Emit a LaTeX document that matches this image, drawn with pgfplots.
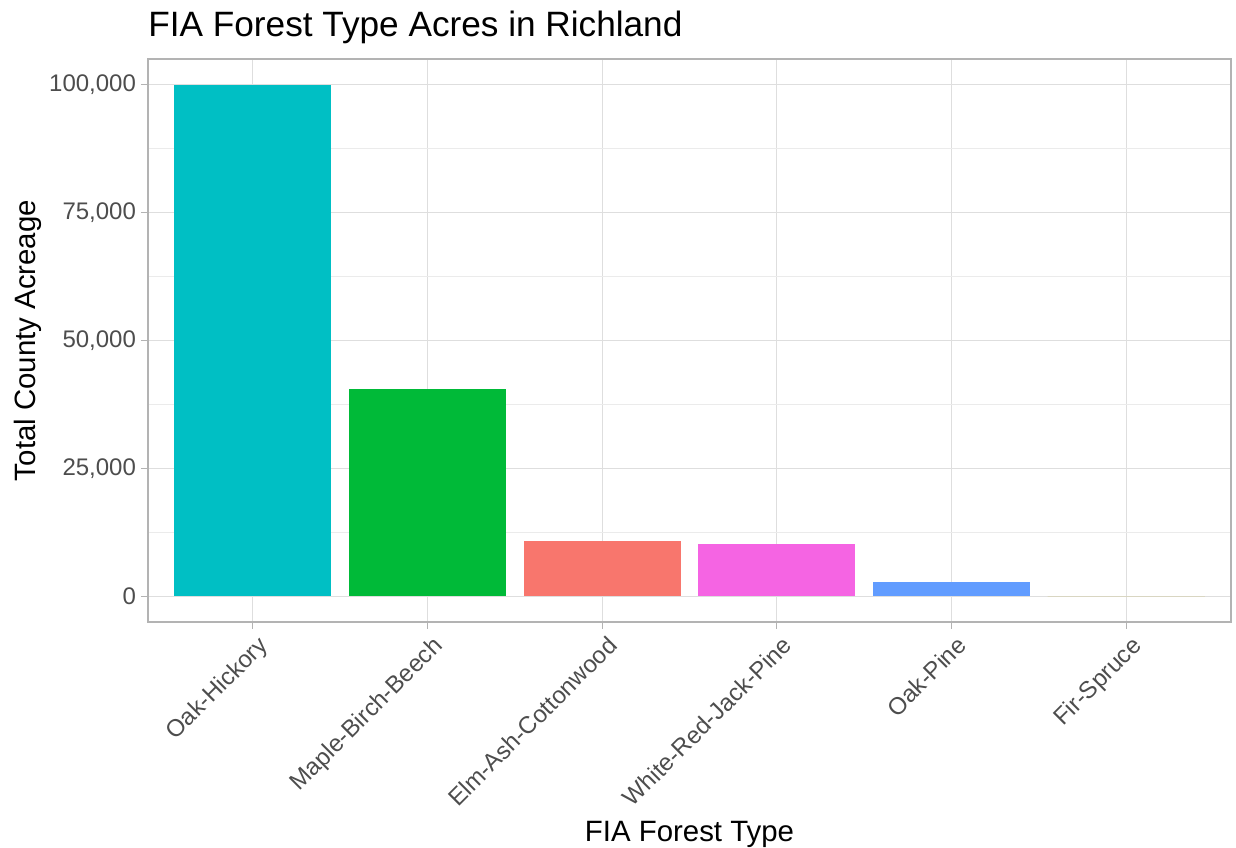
\documentclass[border=0pt]{standalone}
\usepackage{fontspec}
\setmainfont{Liberation Sans}
\usepackage{pgfplots}
\pgfplotsset{compat=1.18}

\definecolor{cElm}{HTML}{F8766D}
\definecolor{cFir}{HTML}{B79F00}
\definecolor{cMaple}{HTML}{00BA38}
\definecolor{cOakHick}{HTML}{00BFC4}
\definecolor{cOakPine}{HTML}{619CFF}
\definecolor{cWhite}{HTML}{F564E3}
\definecolor{gridc}{HTML}{DEDEDE}
\definecolor{framec}{HTML}{B3B3B3}
\definecolor{tickc}{HTML}{4D4D4D}

\begin{document}
\begin{tikzpicture}
\begin{axis}[
    name=a,
    scale only axis,
    width=541.5pt,
    height=281.5pt,
    xmin=-0.6, xmax=5.6,
    ymin=-5000, ymax=105000,
    ybar,
    bar width=0.9,
    xtick={0,1,2,3,4,5},
    xticklabels={Oak-Hickory,Maple-Birch-Beech,Elm-Ash-Cottonwood,White-Red-Jack-Pine,Oak-Pine,Fir-Spruce},
    ytick={0,25000,50000,75000,100000},
    yticklabels={0,{25,000},{50,000},{75,000},{100,000}},
    scaled y ticks=false,
    minor ytick={12500,37500,62500,87500},
    grid=both,
    major grid style={gridc, line width=0.6pt},
    minor grid style={gridc!60, line width=0.4pt},
    axis line style={framec, line width=0.8pt},
    tick style={framec, line width=0.6pt},
    major tick length=3.5pt,
    minor tick length=0pt,
    tick align=outside,
    xtick pos=bottom, ytick pos=left,
    ticklabel style={font=\fontsize{12}{14}\selectfont, text=tickc},
    yticklabel style={xshift=1pt},
    xticklabel style={xshift=2pt, yshift=-1.3pt, rotate=45, anchor=north east, inner sep=1pt},
    title={FIA Forest Type Acres in Richland},
    title style={at={(axis description cs:0,1)}, anchor=base west, yshift=5pt, inner sep=0pt, font=\fontsize{17.6}{20}\selectfont},
    xlabel={FIA Forest Type},
    xlabel style={at={(axis description cs:0.5,0)}, anchor=base, yshift=-110pt, inner sep=0pt, font=\fontsize{14.7}{17}\selectfont},
    ylabel={Total County Acreage},
    ylabel style={at={(axis description cs:-0.1108,0.5)}, anchor=center, inner sep=0pt, font=\fontsize{14.7}{17}\selectfont},
    every axis plot/.append style={draw=none, bar shift=0pt},
    clip=false,
]
\addplot[fill=cOakHick] coordinates {(0,100000)};
\addplot[fill=cMaple] coordinates {(1,40500)};
\addplot[fill=cElm] coordinates {(2,10900)};
\addplot[fill=cWhite] coordinates {(3,10300)};
\addplot[fill=cOakPine] coordinates {(4,2750)};
\addplot[fill=cFir] coordinates {(5,0)};
\coordinate (sw) at (rel axis cs:0,0);
\coordinate (ne) at (rel axis cs:1,1);
\end{axis}
\pgfresetboundingbox
\path[use as bounding box] ([xshift=-74pt,yshift=-113pt]sw) rectangle ([xshift=2.5pt,yshift=29.5pt]ne);
\end{tikzpicture}
\end{document}
